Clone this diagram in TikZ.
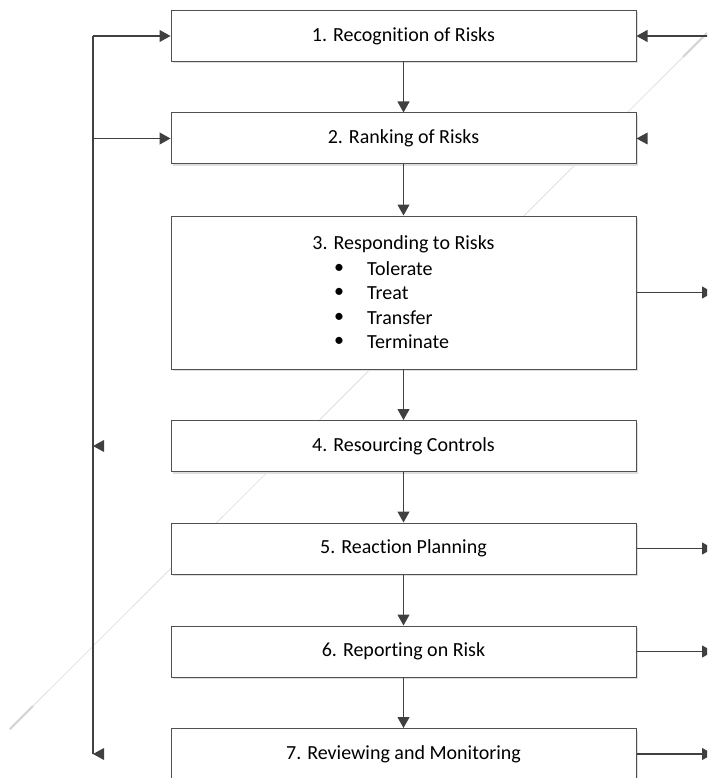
\documentclass[tikz,border=0pt]{standalone}
\usepackage{fontspec}
\setmainfont{Carlito}[Ligatures={NoCommon}]
\usetikzlibrary{arrows.meta,shadows}
\definecolor{ln}{HTML}{404040}
\definecolor{bd}{HTML}{505050}
\begin{document}
\begin{tikzpicture}[x=1pt,y=-1pt,
  box/.style={draw=bd, line width=1pt, fill=white, minimum width=465pt, minimum height=51pt, inner sep=0pt,
    drop shadow={shadow xshift=2pt, shadow yshift=-2pt, fill=black!13, opacity=1},
    font=\fontsize{20}{24.4}\selectfont},
  lbl/.style={font=\fontsize{20}{24.4}\selectfont, inner sep=0pt},
  conn/.style={draw=ln, line width=1.1pt, -{Triangle[length=11pt,width=12pt]}},
  wire/.style={draw=ln, line width=1.1pt},
  tip/.style={fill=ln},
  ghost/.style={draw=black!12, line width=0.8pt},
  ghostend/.style={draw=black!16, line width=2.2pt}]
\useasboundingbox (0,0) rectangle (707,778);
\clip (0,0) rectangle (707,778);
% faint diagonal guide line behind everything
\coordinate (g1) at (707,33);
\coordinate (g2) at (10,729);
\coordinate (g1b) at (683,57);
\coordinate (g2b) at (33,706);
\draw[ghost] (g1) -- (g2);
\draw[ghostend] (g1) -- (g1b);
\draw[ghostend] (g2) -- (g2b);
% boxes
\node[box] (b1) at (403.5,36) {1. Recognition of Risks};
\node[box] (b2) at (403.5,138.5) {2. Ranking of Risks};
\node[box, minimum height=153pt] (b3) at (403.5,292.5) {};
\node[box] (b4) at (403.5,446) {4. Resourcing Controls};
\node[box] (b5) at (403.5,548.5) {5. Reaction Planning};
\node[box] (b6) at (403.5,651.5) {6. Reporting on Risk};
\node[box] (b7) at (403.5,754) {7. Reviewing and Monitoring};
% box 3 text
\node[lbl] (t3) at (403.5,244) {3. Responding to Risks};
\node[lbl] (p1) at (339,268.5) {\textbullet};
\node[lbl] (p2) at (339,293) {\textbullet};
\node[lbl] (p3) at (339,317.5) {\textbullet};
\node[lbl] (p4) at (339,342) {\textbullet};
\node[lbl, anchor=base west] (i1) at (367,275) {Tolerate};
\node[lbl, anchor=base west] (i2) at (367,299.5) {Treat};
\node[lbl, anchor=base west] (i3) at (367,324) {Transfer};
\node[lbl, anchor=base west] (i4) at (367,348.5) {Terminate};
% vertical flow
\draw[conn] (b1.south) -- (b2.north);
\draw[conn] (b2.south) -- (b3.north);
\draw[conn] (b3.south) -- (b4.north);
\draw[conn] (b4.south) -- (b5.north);
\draw[conn] (b5.south) -- (b6.north);
\draw[conn] (b6.south) -- (b7.north);
% left feedback line
\coordinate (Ltop) at (93,36);
\coordinate (L2) at (93,138.5);
\coordinate (L4) at (93,446);
\coordinate (Lbot) at (93,754);
\draw[wire] (Lbot) -- (Ltop);
\draw[conn] (Ltop) -- (b1.west);
\draw[conn] (L2) -- (b2.west);
\fill[tip] (L4) -- ++(11,-6) -- ++(0,12) -- cycle;
\fill[tip] (Lbot) -- ++(11,-6) -- ++(0,12) -- cycle;
% right side
\coordinate (R1) at (713,36);
\coordinate (R3) at (713,292.5);
\coordinate (R5) at (713,548.5);
\coordinate (R6) at (713,651.5);
\coordinate (R7) at (713,754);
\draw[conn] (R1) -- (b1.east);
\fill[tip] (b2.east) -- ++(11,-6) -- ++(0,12) -- cycle;
\draw[conn] (b3.east) -- (R3);
\draw[conn] (b5.east) -- (R5);
\draw[conn] (b6.east) -- (R6);
\draw[conn] (b7.east) -- (R7);
\end{tikzpicture}
\end{document}
